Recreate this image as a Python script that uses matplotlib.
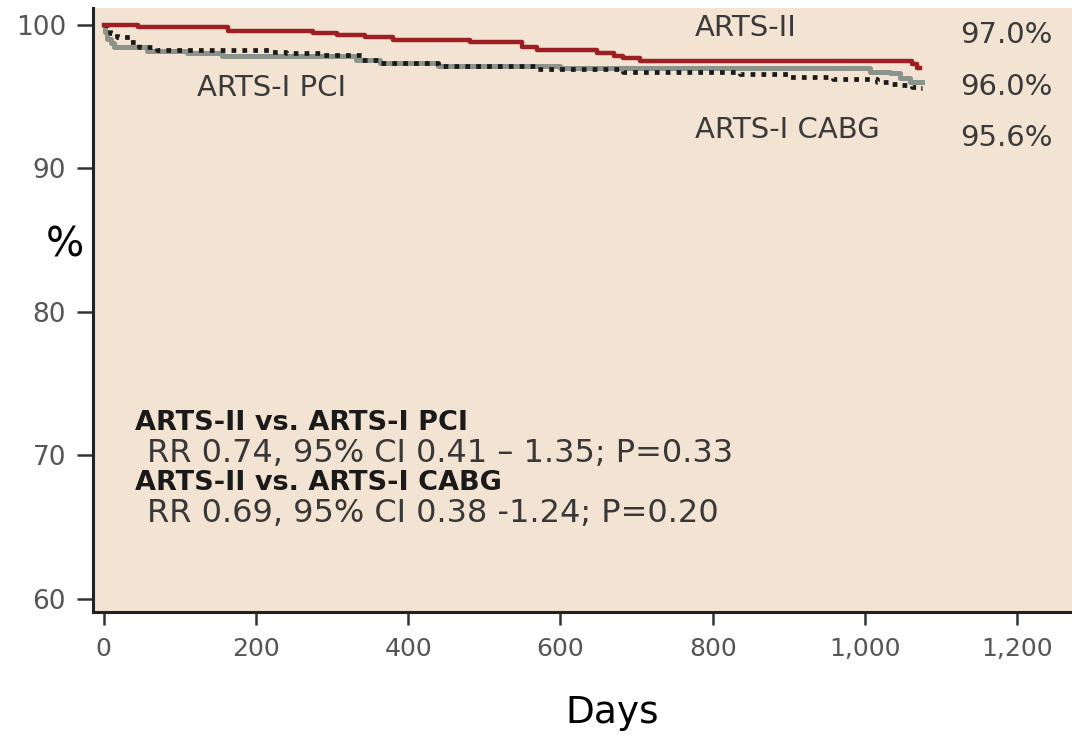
import numpy as np
import matplotlib
matplotlib.use('Agg')
import matplotlib.pyplot as plt

# Kaplan-Meier style survival curves (days, % event free).
arts2_days = [0, 45, 163, 275, 306, 343, 380, 481, 549, 569, 648, 671, 682, 704, 1062, 1068, 1072]
arts2_vals = [100.0, 99.83, 99.58, 99.42, 99.31, 99.15, 98.96, 98.79, 98.44, 98.24, 98.06, 97.85,
              97.72, 97.5, 97.3, 97.0, 97.0]

pci_days = [0, 2, 5, 9, 14, 57, 109, 156, 332, 363, 439, 600, 1007, 1033, 1046, 1059, 1068, 1075]
pci_vals = [100.0, 99.5, 99.0, 98.75, 98.48, 98.22, 98.04, 97.85, 97.58, 97.37, 97.11, 97.02,
            96.75, 96.68, 96.33, 96.06, 96.0, 96.0]

cabg_days = [0, 8, 18, 34, 47, 70, 218, 240, 288, 340, 363, 439, 569, 682, 836, 901, 958, 1016,
             1033, 1046, 1062, 1068, 1075]
cabg_vals = [100.0, 99.45, 99.17, 98.82, 98.48, 98.27, 98.11, 98.04, 97.92, 97.58, 97.37, 97.11,
             96.95, 96.75, 96.61, 96.4, 96.26, 96.0, 95.9, 95.8, 95.7, 95.6, 95.6]

x_ticks = [0, 200, 400, 600, 800, 1000, 1200]
x_tick_labels = ['0', '200', '400', '600', '800', '1,000', '1,200']
y_ticks = [60, 70, 80, 90, 100]

W, H = 1072, 747
fig = plt.figure(figsize=(W / 100, H / 100), dpi=100)
ax = fig.add_axes([93 / W, 1 - 612 / H, 1 - 93 / W, (612 - 8) / H])
ax.set_facecolor('#f3e3d2')

ax.step(pci_days, pci_vals, where='post', color='#8b938a', lw=3.6, zorder=2)
ax.step(cabg_days, cabg_vals, where='post', color='#1a1a1a', lw=3.4,
        linestyle=(0, (1, 1.3)), zorder=3)
ax.step(arts2_days, arts2_vals, where='post', color='#9c1f24', lw=3.2, zorder=4)

ax.set_xlim(-14, 1272)
ax.set_ylim(100 - (612 - 25) / 14.35, 100 + (25 - 8) / 14.35)
ax.set_xticks(x_ticks)
ax.set_xticklabels(x_tick_labels)
ax.set_yticks(y_ticks)

for side in ['top', 'right']:
    ax.spines[side].set_visible(False)
for side in ['left', 'bottom']:
    ax.spines[side].set_linewidth(2.2)
    ax.spines[side].set_color('#222222')

ax.tick_params(axis='y', length=11.5, width=1.8, color='#333333', labelsize=19,
               labelcolor='#555555', pad=8)
ax.tick_params(axis='x', length=9, width=1.8, color='#333333', labelsize=18,
               labelcolor='#555555', pad=9)


def put(x, y, s, **kw):
    # place text by pixel position from the top-left corner
    fig.text(x / W, 1 - y / H, s, **kw)


# Curve labels and end values.
lab = dict(color='#3a3a3a', fontsize=21, va='center')
put(695, 28, 'ARTS-II', **lab)
put(197, 88, 'ARTS-I PCI', **lab)
put(695, 130, 'ARTS-I CABG', **lab)
put(1053, 35, '97.0%', ha='right', **lab)
put(1053, 87, '96.0%', ha='right', **lab)
put(1053, 138, '95.6%', ha='right', **lab)

# Relative risk summary.
head = dict(color='#1a1a1a', fontsize=19.5, fontweight='bold', va='center')
body = dict(color='#383838', fontsize=23, va='center')
put(135, 423, 'ARTS-II vs. ARTS-I PCI', **head)
put(147, 453, 'RR 0.74, 95% CI 0.41 \u2013 1.35; P=0.33', **body)
put(135, 483, 'ARTS-II vs. ARTS-I CABG', **head)
put(147, 513, 'RR 0.69, 95% CI 0.38 -1.24; P=0.20', **body)

# Axis titles.
put(65, 245, '%', color='black', fontsize=29, va='center', ha='center')
put(612, 713, 'Days', color='black', fontsize=27, va='center', ha='center')

fig.savefig('out.png', dpi=100)
